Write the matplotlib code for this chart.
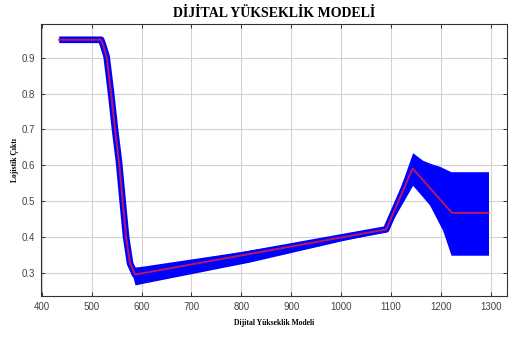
import matplotlib
matplotlib.use("Agg")
import matplotlib.pyplot as plt
import numpy as np

# Mean logistic output curve
line_x = [435, 519, 523, 530, 539, 547, 555, 562, 569, 577, 587, 1090, 1143, 1222, 1295]
line_y = [0.95, 0.95, 0.935, 0.903, 0.80, 0.698, 0.607, 0.502, 0.40, 0.326, 0.295, 0.421, 0.591, 0.467, 0.467]

# Uncertainty band
band_x = [577, 587, 600, 817, 1003, 1090, 1143, 1163, 1177, 1197, 1203, 1220, 1295]
band_lo = [0.318, 0.266, 0.270, 0.330, 0.390, 0.415, 0.544, 0.512, 0.489, 0.435, 0.419, 0.349, 0.349]
band_hi = [0.332, 0.316, 0.318, 0.363, 0.405, 0.425, 0.635, 0.614, 0.606, 0.597, 0.593, 0.582, 0.582]

x_ticks = [400, 500, 600, 700, 800, 900, 1000, 1100, 1200, 1300]
y_ticks = [0.3, 0.4, 0.5, 0.6, 0.7, 0.8, 0.9]

fig = plt.figure(figsize=(5.09, 3.38), dpi=100)
ax = fig.add_axes([0.080, 0.124, 0.916, 0.805])

ax.fill_between(band_x, band_lo, band_hi, color="#0000ff", linewidth=0, zorder=2)
ax.plot(line_x, line_y, color="#0000ff", linewidth=4.8, solid_capstyle="butt",
        solid_joinstyle="round", zorder=3)
ax.plot(line_x, line_y, color="#b8185c", linewidth=1.4, solid_joinstyle="round", zorder=4)

ax.set_xlim(398, 1332)
ax.set_ylim(0.235, 0.994)
ax.set_xticks(x_ticks)
ax.set_yticks(y_ticks)
ax.set_yticklabels([f"{v:.1f}" for v in y_ticks])
ax.grid(True, color="#d2d2d2", linewidth=0.8, zorder=0)
ax.set_axisbelow(True)
ax.tick_params(direction="in", top=True, right=True, length=3, width=0.7,
               labelsize=7, colors="#333333", labelcolor="#444444", pad=4)
for s in ax.spines.values():
    s.set_color("#333333")
    s.set_linewidth(0.8)

for lab in ax.get_xticklabels() + ax.get_yticklabels():
    lab.set_family("Liberation Sans")

ax.set_title("DİJİTAL YÜKSEKLİK MODELİ", fontsize=10, fontweight="bold",
             family="Liberation Serif", pad=5)
ax.set_xlabel("Dijital Yükseklik Modeli", fontsize=5.5, fontweight="bold",
              family="Liberation Serif", labelpad=5)
ax.set_ylabel("Lojistik Çıktı", fontsize=5.5, fontweight="bold",
              family="Liberation Serif", labelpad=2)

fig.savefig("out.png", dpi=100)
